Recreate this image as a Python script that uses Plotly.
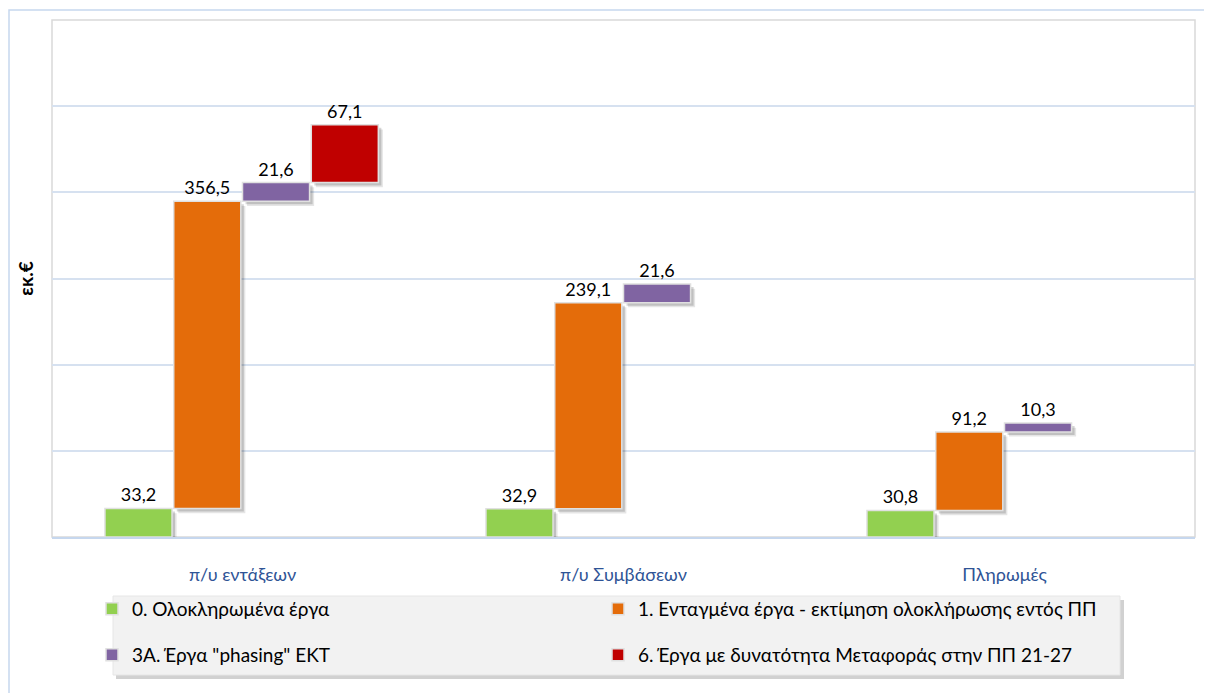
import plotly.graph_objects as go

categories = ["π/υ εντάξεων", "π/υ Συμβάσεων", "Πληρωμές"]
s0_name = "0. Ολοκληρωμένα έργα"
s1_name = "1. Ενταγμένα έργα - εκτίμηση ολοκλήρωσης εντός ΠΠ"
s3_name = '3Α. Έργα "phasing" ΕΚΤ'
s6_name = "6. Έργα με δυνατότητα Μεταφοράς στην ΠΠ 21-27"
s0_vals = [33.2, 32.9, 30.8]
s1_vals = [356.5, 239.1, 91.2]
s3_vals = [21.6, 21.6, 10.3]
s6_vals = [67.1, None, None]
y_title = "εκ.€"

colors = ["#92d050", "#e46c0a", "#8064a2", "#c00000"]
FONT = "Lato, 'Open Sans', sans-serif"

base1 = [a for a in s0_vals]
base3 = [a + b for a, b in zip(s0_vals, s1_vals)]
base6 = [a + b + c for a, b, c in zip(s0_vals, s1_vals, s3_vals)]

series = [
    (s0_name, s0_vals, [0, 0, 0], colors[0], -0.361, "legend"),
    (s1_name, s1_vals, base1, colors[1], -0.1805, "legend"),
    (s3_name, s3_vals, base3, colors[2], 0.0, "legend2"),
    (s6_name, s6_vals, base6, colors[3], 0.1805, "legend2"),
]
W = 0.176

def fmt(v):
    return "" if v is None else f"{v:.1f}".replace(".", ",")

fig = go.Figure()
# soft shadows
for name, vals, base, col, off, lg in series:
    for dx, dy, a in [(0.012, 5.5, 0.10), (0.008, 3.5, 0.16)]:
        fig.add_trace(go.Bar(
            x=categories, y=vals, base=[b - dy for b in base],
            offset=off + dx, width=W,
            marker=dict(color=f"rgba(0,0,0,{a})", line=dict(width=0)),
            showlegend=False, hoverinfo="skip",
        ))
for name, vals, base, col, off, lg in series:
    fig.add_trace(go.Bar(
        name=name, x=categories, y=vals, base=base,
        offset=off, width=W,
        marker=dict(color=col, line=dict(color="#e0e0e0", width=1.5)),
        text=[fmt(v) for v in vals], textposition="outside",
        textfont=dict(size=18, color="#000000", family=FONT),
        cliponaxis=False, legend=lg,
    ))

# page body has an 8px margin: figure is sized so the plot lands where the reference has it
OFF = 8
L, R, T, B = 52 - OFF, 17, 20 - OFF, 156
FW, FH = 1212 - OFF, 693 - OFF
pw, ph = 1143, 517
def px(x): return (x - 52) / pw
def py(y): return (537 - y) / ph

shapes = [
    dict(type="rect", xref="paper", yref="paper", x0=px(9), x1=px(1240), y0=py(740), y1=py(10),
         line=dict(color="#c6d7ee", width=1.5), layer="below"),
    dict(type="rect", xref="paper", yref="paper", x0=0, x1=1, y0=0, y1=1,
         line=dict(color="#d9d9d9", width=1.5), layer="below"),
    dict(type="rect", xref="paper", yref="paper", x0=px(116), x1=px(1124), y0=py(679), y1=py(600),
         fillcolor="rgba(0,0,0,0.18)", line=dict(width=0), layer="below"),
    dict(type="rect", xref="paper", yref="paper", x0=px(113), x1=px(1120), y0=py(675), y1=py(596),
         fillcolor="#f2f2f2", line=dict(color="#e6e6e6", width=1), layer="below"),
]

legend_common = dict(orientation="h", xanchor="left", yanchor="middle",
                     entrywidth=461, bgcolor="rgba(0,0,0,0)",
                     font=dict(size=19, family=FONT, color="#000000"), traceorder="normal")

fig.update_layout(
    width=FW, height=FH,
    margin=dict(l=L, r=R, t=T, b=B, autoexpand=False),
    paper_bgcolor="white", plot_bgcolor="white",
    barmode="overlay",
    font=dict(family=FONT, size=15, color="#000000"),
    shapes=shapes,
    legend=dict(x=px(92), y=py(609), **legend_common),
    legend2=dict(x=px(92), y=py(655), **legend_common),
)
fig.update_xaxes(
    showline=True, linecolor="#c6d7ee", linewidth=1.5,
    showgrid=False, ticks="", ticklabelstandoff=21,
    tickfont=dict(size=18, color="#2f5496", family=FONT),
)
fig.update_yaxes(
    range=[0, 600], dtick=100, showgrid=True, gridcolor="#d6e1f0", gridwidth=1.5,
    showticklabels=False, zeroline=False, showline=False,
    title=dict(text=y_title, standoff=12,
               font=dict(size=19, color="#000000", family=FONT, weight="bold")),
)

fig.write_html("out.html")
